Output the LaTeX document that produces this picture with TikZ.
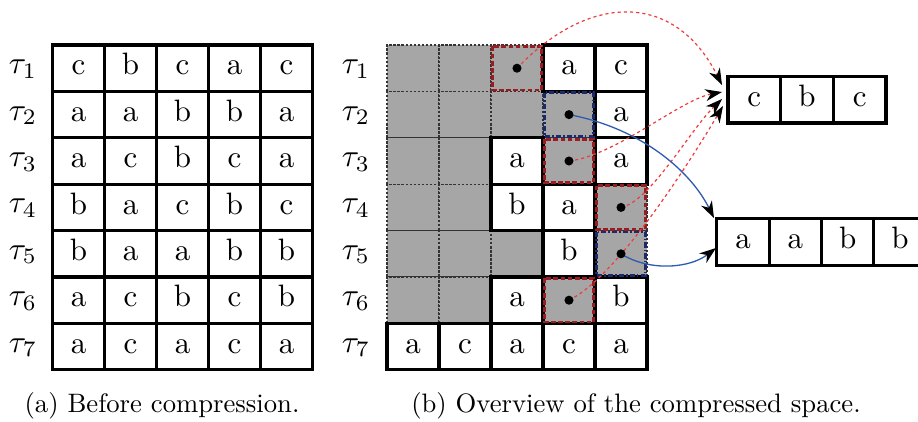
\documentclass[tikz,border=0pt]{standalone}
\usepackage{fontspec}
\setmainfont{lmroman10-regular}[Extension=.otf,ItalicFont=lmroman10-italic,BoldFont=lmroman10-bold]
\usetikzlibrary{arrows.meta,calc}
\definecolor{cellgray}{HTML}{A6A6A6}
\definecolor{markred}{HTML}{9B1C20}
\definecolor{markblue}{HTML}{1B2A6B}
\definecolor{arrred}{HTML}{F03A3A}
\definecolor{arrblue}{HTML}{2F5BB0}
\begin{document}
\begin{tikzpicture}[x=0.42pt,y=-0.42pt,
  celltext/.style={font=\fontsize{13}{15}\selectfont,text height=5.7pt,text depth=0pt},
  wcell/.style={celltext,draw=black,line width=1.3pt,fill=white,minimum width=21.84pt,minimum height=19.49pt,inner sep=0pt},
  gcell/.style={draw=black!80,line width=0.45pt,dash pattern=on 1pt off 0.7pt,fill=cellgray,minimum width=21.84pt,minimum height=19.49pt,inner sep=0pt},
  redmark/.style={draw=markred,line width=1.15pt,dash pattern=on 2pt off 1pt},
  bluemark/.style={draw=markblue,line width=1.15pt,dash pattern=on 2.2pt off 0.9pt on 0.6pt off 0.9pt},
  taulab/.style={inner sep=0pt,scale=1.33},
  caption/.style={font=\fontsize{11.2}{13.5}\selectfont},
  rarrow/.style={draw=arrred,line width=0.5pt,dash pattern=on 1.3pt off 1.3pt,-{Stealth[black,length=7pt,width=5pt,inset=2.2pt]}},
  barrow/.style={draw=arrblue,line width=0.55pt,-{Stealth[black,length=7pt,width=5pt,inset=2.2pt]}},
  boxa/.style={celltext,draw=black,line width=1.3pt,fill=white,minimum width=22.1pt,minimum height=19.7pt,inner sep=0pt},
  boxb/.style={celltext,draw=black,line width=1.3pt,fill=white,minimum width=21.97pt,minimum height=20.1pt,inner sep=0pt}]
\useasboundingbox (0,0) rectangle (918,421);
% left grid
\foreach \r/\row in {1/{c,b,c,a,c},2/{a,a,b,b,a},3/{a,c,b,c,a},4/{b,a,c,b,c},5/{b,a,a,b,b},6/{a,c,b,c,b},7/{a,c,a,c,a}}{
  \foreach \v [count=\c] in \row {
    \node[wcell] (L\r\c) at ({52.5+(\c-0.5)*52},{45+(\r-0.5)*46.4}) {\v};
  }
}
\foreach \r in {1,...,7}{
  \node[taulab] (tl\r) at (23,{46+(\r-0.5)*46.4}) {$\tau_{\r}$};
  \node[taulab] (tr\r) at (356,{46+(\r-0.5)*46.4}) {$\tau_{\r}$};
}
% right grid: gray cells
\foreach \r/\c in {1/1,1/2,1/3,2/1,2/2,2/3,2/4,3/1,3/2,3/4,4/1,4/2,4/5,5/1,5/2,5/3,5/5,6/1,6/2,6/4}{
  \node[gcell] (R\r\c) at ({387+(\c-0.5)*52},{45+(\r-0.5)*46.4}) {};
}
% right grid: white cells
\foreach \r/\c/\v in {1/4/a,1/5/c,2/5/a,3/3/a,3/5/a,4/3/b,4/4/a,5/4/b,6/3/a,6/5/b,7/1/a,7/2/c,7/3/a,7/4/c,7/5/a}{
  \node[wcell] (R\r\c) at ({387+(\c-0.5)*52},{45+(\r-0.5)*46.4}) {\v};
}
% marks
\foreach \r/\c in {1/3,3/4,4/5,6/4}{
  \draw[redmark] ([shift={(2,2)}]R\r\c.north west) rectangle ([shift={(-2,-2)}]R\r\c.south east);
}
\foreach \r/\c in {2/4,5/5}{
  \draw[bluemark] ([shift={(2,2)}]R\r\c.north west) rectangle ([shift={(-2,-2)}]R\r\c.south east);
}
% target boxes
\node[boxa] (C1) at (754.3,99.5) {c};
\node[boxa] (C2) at (807,99.5) {b};
\node[boxa] (C3) at (859.7,99.5) {c};
\node[boxb] (A1) at (743,242) {a};
\node[boxb] (A2) at (795.3,242) {a};
\node[boxb] (A3) at (847.6,242) {b};
\node[boxb] (A4) at (899.9,242) {b};
% arrow ends
\coordinate (t1) at (722,85);
\coordinate (t2) at (722,92);
\coordinate (t3) at (722,99);
\coordinate (t4) at (723,106);
\coordinate (b1) at (714,218);
\coordinate (b2) at (716,248);
% arrows
\draw[rarrow] (R13.center) .. controls (590,-8) and (675,-8) .. (t1);
\draw[rarrow] (R34.center) .. controls (615,156) and (680,100) .. (t2);
\draw[rarrow] (R45.center) .. controls (650,202) and (690,130) .. (t3);
\draw[rarrow] (R64.center) .. controls (615,278) and (685,170) .. (t4);
\draw[barrow] (R24.center) .. controls (640,128) and (690,170) .. (b1);
\draw[barrow] (R55.center) .. controls (650,272) and (690,268) .. (b2);
% dots
\foreach \r/\c in {1/3,3/4,4/5,6/4,2/4,5/5}{
  \fill (R\r\c.center) circle (1.9pt);
}
% captions
\node[caption] (capa) at (162,406) {(a) Before compression.};
\node[caption] (capb) at (636,406) {(b) Overview of the compressed space.};
\end{tikzpicture}
\end{document}
